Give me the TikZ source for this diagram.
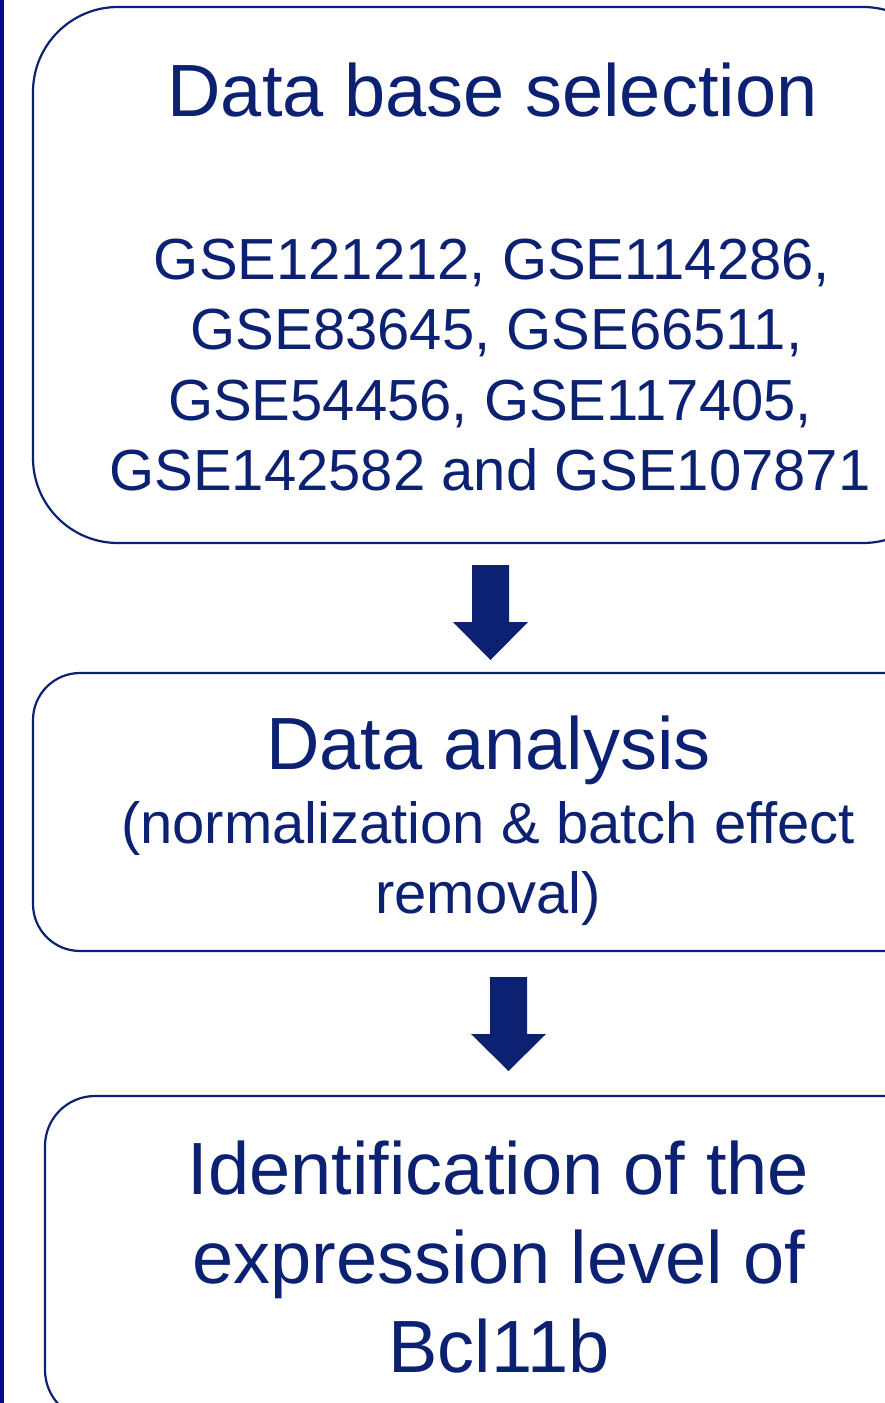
\documentclass[tikz,border=0pt]{standalone}
\usepackage{fontspec}
\setmainfont{Liberation Sans}
\definecolor{navy}{RGB}{12,33,113}
\definecolor{edgeblue}{RGB}{8,8,140}
\tikzset{
  flowbox/.style={draw=navy, line width=2.2pt, rectangle, inner sep=0pt},
  bigtext/.style={anchor=base, text=navy, inner sep=0pt, font=\fontsize{74}{89}\selectfont},
  smalltext/.style={anchor=base, text=navy, inner sep=0pt, font=\fontsize{58}{70}\selectfont},
  arrowfill/.style={fill=navy}
}
\begin{document}
\begin{tikzpicture}[x=1pt,y=-1pt]
\useasboundingbox (0,0) rectangle (885,1403);
\clip (0,0) rectangle (885,1403);
\fill[white] (0,0) rectangle (885,1403);
% left edge line
\draw[edgeblue, line width=3.6pt] (1.8,0) -- (1.8,1403);
% boxes
\node[flowbox, rounded corners=85pt, minimum width=915pt, minimum height=536pt] (box1) at (490.5,275) {};
\node[flowbox, rounded corners=47pt, minimum width=917pt, minimum height=278pt] (box2) at (491.5,812) {};
\node[flowbox, rounded corners=50pt, minimum width=905pt, minimum height=324pt] (box3) at (497.5,1258) {};
% box 1 text
\node[bigtext] (t1) at (492.5,116) {Data base selection};
\node[smalltext] (g1) at (492,279) {GSE121212, GSE114286,};
\node[smalltext] (g2) at (496.5,349.5) {GSE83645, GSE66511,};
\node[smalltext] (g3) at (490,420) {GSE54456, GSE117405,};
\node[smalltext] (g4) at (490,490) {GSE142582 and GSE107871};
% box 2 text
\node[bigtext] (t2) at (488.5,769) {Data analysis};
\node[smalltext] (s2a) at (488,843) {(normalization \& batch effect};
\node[smalltext] (s2b) at (488,913) {removal)};
% box 3 text
\node[bigtext] (t3a) at (498.5,1194) {Identification of the};
\node[bigtext] (t3b) at (499,1283) {expression level of};
\node[bigtext] (t3c) at (499,1372) {Bcl11b};
% arrows
\coordinate (a1) at (490.5,565);
\coordinate (a2) at (508.5,977);
\fill[arrowfill, shift={(a1)}] (-18.5,0) -- (18.5,0) -- (18.5,57) -- (37.5,57) -- (0,95) -- (-37.5,57) -- (-18.5,57) -- cycle;
\fill[arrowfill, shift={(a2)}] (-18.5,0) -- (18.5,0) -- (18.5,57) -- (37.5,57) -- (0,94) -- (-37.5,57) -- (-18.5,57) -- cycle;
\end{tikzpicture}
\end{document}
